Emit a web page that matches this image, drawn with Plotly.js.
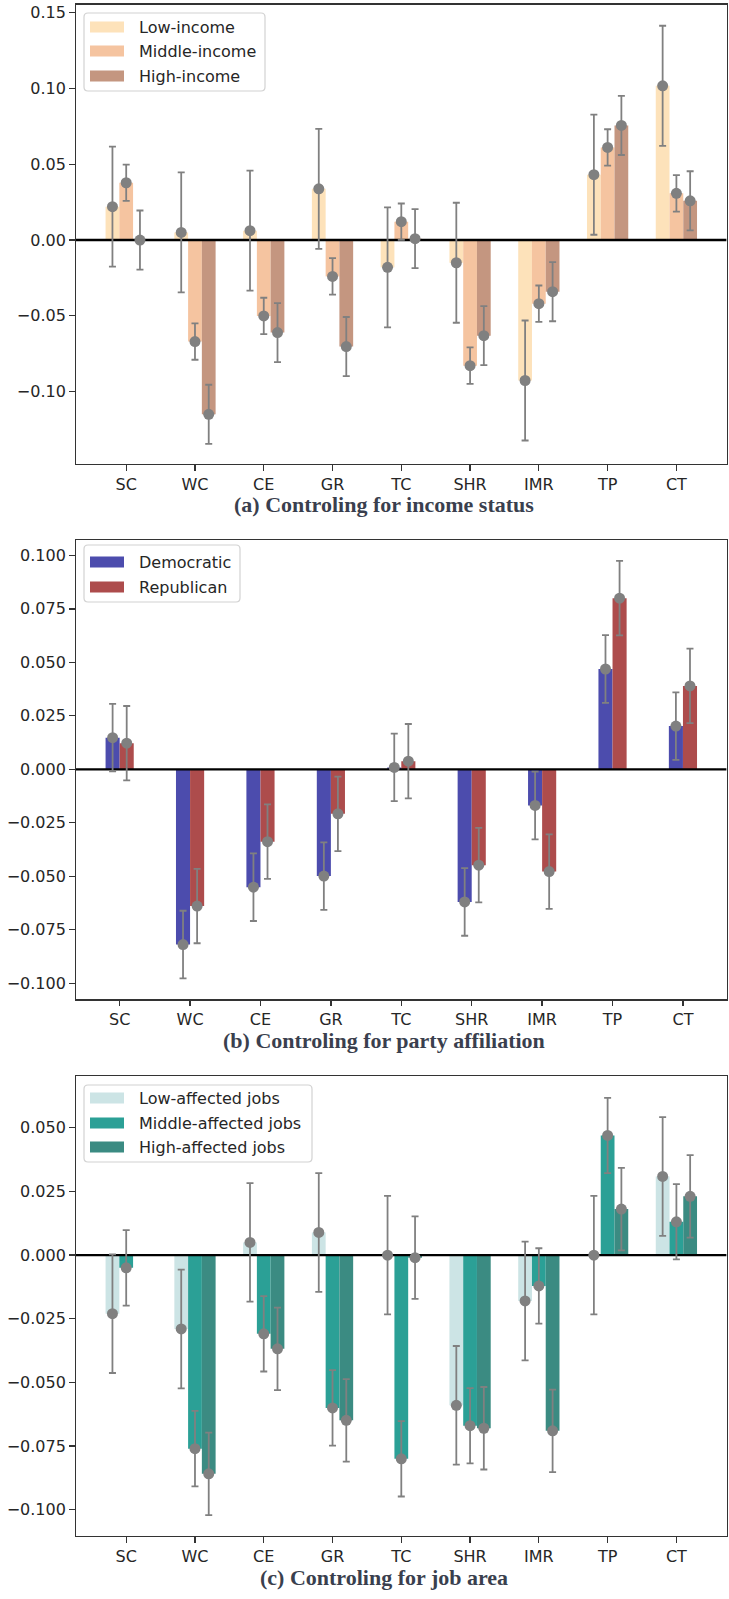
<!DOCTYPE html>
<html>
<head>
<meta charset="utf-8">
<script src="https://cdn.plot.ly/plotly-3.0.1.min.js"></script>
<style>html,body{margin:0;padding:0;background:#fff;overflow:hidden;width:729px;height:1599px;}#chart{width:729px;height:1599px;overflow:hidden;}</style>
</head>
<body>
<div id="chart"></div>
<script>
// ---------- data ----------
const categories = ['SC', 'WC', 'CE', 'GR', 'TC', 'SHR', 'IMR', 'TP', 'CT'];

const incomeLabels = ['Low-income', 'Middle-income', 'High-income'];
const incomeLow  = [0.022, 0.005, 0.0062, 0.0338, -0.018, -0.015, -0.0927, 0.0431, 0.1018];
const incomeMid  = [0.0378, -0.067, -0.0501, -0.024, 0.0121, -0.0829, -0.042, 0.0611, 0.0308];
const incomeHigh = [0.0, -0.115, -0.0611, -0.0703, 0.0009, -0.0631, -0.0341, 0.0756, 0.0259];
const incomeLowErr  = [0.0396, 0.0396, 0.0396, 0.0396, 0.0396, 0.0396, 0.0396, 0.0396, 0.0396];
const incomeMidErr  = [0.012, 0.012, 0.012, 0.012, 0.012, 0.012, 0.012, 0.012, 0.012];
const incomeHighErr = [0.0195, 0.0195, 0.0195, 0.0195, 0.0195, 0.0195, 0.0195, 0.0195, 0.0195];

const partyLabels = ['Democratic', 'Republican'];
const partyDem = [0.0148, -0.0819, -0.0551, -0.0499, 0.0009, -0.062, -0.0169, 0.0469, 0.0202];
const partyRep = [0.0122, -0.0639, -0.0338, -0.0208, 0.0038, -0.0448, -0.0478, 0.080, 0.039];
const partyDemErr = [0.0158, 0.0158, 0.0158, 0.0158, 0.0158, 0.0158, 0.0158, 0.0158, 0.0158];
const partyRepErr = [0.0174, 0.0174, 0.0174, 0.0174, 0.0174, 0.0174, 0.0174, 0.0174, 0.0174];

const jobLabels = ['Low-affected jobs', 'Middle-affected jobs', 'High-affected jobs'];
const jobLow  = [-0.023, -0.029, 0.005, 0.0089, 0.0, -0.059, -0.018, 0.0, 0.0309];
const jobMid  = [-0.005, -0.076, -0.0309, -0.06, -0.08, -0.067, -0.0121, 0.047, 0.0131];
const jobHigh = [null, -0.0859, -0.0368, -0.0649, -0.001, -0.068, -0.069, 0.0181, 0.0231];
const jobLowErr  = [0.0233, 0.0233, 0.0233, 0.0233, 0.0233, 0.0233, 0.0233, 0.0233, 0.0233];
const jobMidErr  = [0.0148, 0.0148, 0.0148, 0.0148, 0.0148, 0.0148, 0.0148, 0.0148, 0.0148];
const jobHighErr = [null, 0.0162, 0.0162, 0.0162, 0.0162, 0.0162, 0.0162, 0.0162, 0.0162];

const panelTitles = ['(a) Controling for income status', '(b) Controling for party affiliation', '(c) Controling for job area'];

// ---------- styling / layout ----------
const W = 729, H = 1599;
const px = v => v / W;
const py = v => 1 - v / H;

const incomeColors = ['#FDE2BA', '#F5C4A0', '#C49680'];
const partyColors = ['#4C4CAD', '#AD4C4C'];
const jobColors = ['#CCE4E5', '#2BA096', '#3B8B82'];
const errColor = '#808080';
const BW = 0.2;

const panels = [
  {series: [incomeLow, incomeMid, incomeHigh], errs: [incomeLowErr, incomeMidErr, incomeHighErr],
   labels: incomeLabels, colors: incomeColors, top: 4.7, bottom: 464,
   yrange: [-0.1478, 0.1553], dtick: 0.05, fmt: '.2f', xrange: [-0.73, 8.73],
   legend: {x0: 84, x1: 265, y0: 13, y1: 91, rows: [27, 51, 76]}, titleY: 505},
  {series: [partyDem, partyRep], errs: [partyDemErr, partyRepErr],
   labels: partyLabels, colors: partyColors, top: 540, bottom: 999.3,
   yrange: [-0.1075, 0.1072], dtick: 0.025, fmt: '.3f', xrange: [-0.62, 8.62],
   legend: {x0: 84, x1: 240, y0: 545, y1: 602, rows: [562, 587]}, titleY: 1040},
  {series: [jobLow, jobMid, jobHigh], errs: [jobLowErr, jobMidErr, jobHighErr],
   labels: jobLabels, colors: jobColors, top: 1076.4, bottom: 1535.7,
   yrange: [-0.1102, 0.0702], dtick: 0.025, fmt: '.3f', xrange: [-0.73, 8.73],
   legend: {x0: 84, x1: 312, y0: 1085, y1: 1162, rows: [1098, 1123, 1147]}, titleY: 1577}
];

const traces = [];
const shapes = [];
const annotations = [];
const layout = {
  width: W, height: H, autosize: false, margin: {l: 0, r: 0, t: 0, b: 0, pad: 0},
  paper_bgcolor: '#ffffff', plot_bgcolor: '#ffffff',
  showlegend: false, barmode: 'overlay',
  font: {family: 'DejaVu Sans', size: 16, color: '#262626'}
};

function roundRect(x0, y0, x1, y1, r) {
  const rx = r / W, ry = r / H;
  const X0 = px(x0), X1 = px(x1), Y0 = py(y0), Y1 = py(y1);
  return `M${X0 + rx},${Y0} L${X1 - rx},${Y0} Q${X1},${Y0} ${X1},${Y0 - ry} ` +
         `L${X1},${Y1 + ry} Q${X1},${Y1} ${X1 - rx},${Y1} L${X0 + rx},${Y1} ` +
         `Q${X0},${Y1} ${X0},${Y1 + ry} L${X0},${Y0 - ry} Q${X0},${Y0} ${X0 + rx},${Y0} Z`;
}

panels.forEach((p, pi) => {
  const sfx = pi === 0 ? '' : String(pi + 1);
  const xa = 'x' + sfx, ya = 'y' + sfx;
  const n = p.series.length;
  const idx = categories.map((c, i) => i);
  // bars
  p.series.forEach((vals, si) => {
    const off = (si - (n - 1) / 2) * BW;
    traces.push({
      type: 'bar', x: idx.map(i => i + off), y: vals, width: BW,
      marker: {color: p.colors[si], line: {width: 0}},
      xaxis: xa, yaxis: ya, name: p.labels[si], hoverinfo: 'skip'
    });
  });
  // zero reference line
  traces.push({
    type: 'scatter', mode: 'lines', x: p.xrange, y: [0, 0],
    line: {color: '#000000', width: 2.4}, xaxis: xa, yaxis: ya, hoverinfo: 'skip'
  });
  // points with error bars
  p.series.forEach((vals, si) => {
    const off = (si - (n - 1) / 2) * BW;
    traces.push({
      type: 'scatter', mode: 'markers', x: idx.map(i => i + off), y: vals,
      marker: {color: errColor, size: 11},
      error_y: {type: 'data', array: p.errs[si], visible: true, color: errColor, thickness: 1.8, width: 3.5},
      xaxis: xa, yaxis: ya, hoverinfo: 'skip'
    });
  });

  const dom = [py(p.bottom), py(p.top)];
  layout['xaxis' + sfx] = {
    domain: [px(76), px(726.6)], anchor: ya, range: p.xrange,
    tickmode: 'array', tickvals: idx, ticktext: categories,
    ticks: 'outside', ticklen: 5.6, tickwidth: 1.3, tickcolor: '#333333',
    showline: true, mirror: true, linecolor: '#333333', linewidth: 1.3,
    showgrid: false, zeroline: false, fixedrange: true,
    tickfont: {family: 'DejaVu Sans', size: 16, color: '#262626'}
  };
  layout['yaxis' + sfx] = {
    domain: dom, anchor: xa, range: p.yrange,
    tick0: 0, dtick: p.dtick, tickformat: p.fmt,
    ticks: 'outside', ticklen: 5.6, tickwidth: 1.3, tickcolor: '#333333',
    showline: true, mirror: true, linecolor: '#333333', linewidth: 1.3,
    showgrid: false, zeroline: false, fixedrange: true,
    tickfont: {family: 'DejaVu Sans', size: 16, color: '#262626'}
  };

  // legend box
  const L = p.legend;
  shapes.push({type: 'path', xref: 'paper', yref: 'paper', path: roundRect(L.x0, L.y0, L.x1, L.y1, 4),
    fillcolor: 'rgba(255,255,255,0.85)', line: {color: '#d2d2d2', width: 1.2}, layer: 'above'});
  L.rows.forEach((ry, ri) => {
    shapes.push({type: 'rect', xref: 'paper', yref: 'paper',
      x0: px(90), x1: px(124), y0: py(ry + 5.5), y1: py(ry - 5.5),
      fillcolor: p.colors[ri], line: {width: 0}, layer: 'above'});
    annotations.push({xref: 'paper', yref: 'paper', x: px(137), y: py(ry), xanchor: 'left', yanchor: 'middle',
      text: p.labels[ri], showarrow: false, font: {family: 'DejaVu Sans', size: 16, color: '#262626'}});
  });

  // panel caption
  annotations.push({xref: 'paper', yref: 'paper', x: px(384), y: py(p.titleY), xanchor: 'center', yanchor: 'middle',
    text: '<b>' + panelTitles[pi] + '</b>', showarrow: false,
    font: {family: 'Liberation Serif', size: 22, color: '#3a3f4e'}});
});

layout.shapes = shapes;
layout.annotations = annotations;

Plotly.newPlot('chart', traces, layout, {displayModeBar: false, staticPlot: true});
</script>
</body>
</html>
